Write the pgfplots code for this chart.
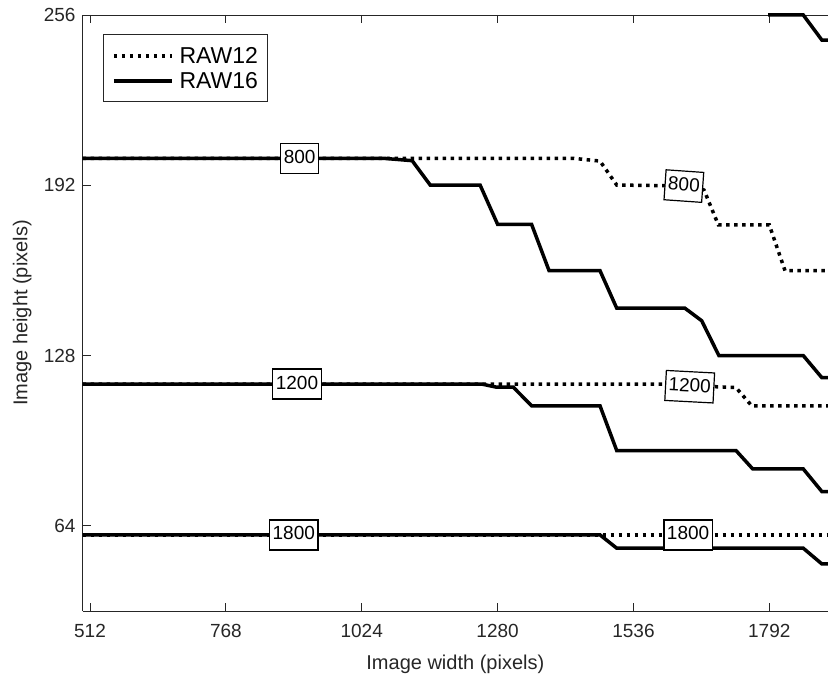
\documentclass[border=0pt]{standalone}
\usepackage{fontspec}
\setmainfont{Liberation Sans}
\usepackage{pgfplots}
\pgfplotsset{compat=1.18}
\definecolor{axgray}{HTML}{262626}

% contour lines
\pgfplotstableread{
x y
498.2 202.15
1064 202.15
1119 201.25
1153 192.1
1247 192.1
1280 177.35
1344 177.35
1377 159.9
1473 159.9
1504.5 145.8
1633 145.8
1664.6 141.1
1697 128.0
1856 128.0
1891 119.7
1903 119.7
}\rawsixteenA
\pgfplotstableread{
x y
498.2 202.15
1422 202.15
1473 201.1
1504.5 192.1
1642.6 191.7
1669 190.2
1696 177.1
1792 177.1
1821.6 159.9
1903 159.9
}\rawtwelveA
\pgfplotstableread{
x y
498.2 117.3
1250 117.3
1278.4 116.1
1309.6 116.1
1344.3 109.1
1473 109.1
1504.5 92.3
1729.3 92.3
1760.7 85.4
1856 85.4
1891 76.9
1903 76.9
}\rawsixteenB
\pgfplotstableread{
x y
498.2 117.3
1600 117.3
1690 116.3
1729 116.0
1759 109.1
1903 109.1
}\rawtwelveB
\pgfplotstableread{
x y
498.2 60.6
1473 60.6
1504.5 55.6
1856 55.6
1891 49.7
1903 49.7
}\rawsixteenC
\pgfplotstableread{
x y
498.2 60.6
1903 60.6
}\rawtwelveC
\pgfplotstableread{
x y
1790 256
1856 256
1891 246.6
1903 246.6
}\rawsixteenTop

\begin{document}
\begin{tikzpicture}[
  lbl/.style={draw=black, line width=1.2pt, fill=white,
    font=\fontsize{19}{22}\selectfont, inner xsep=3pt, inner ysep=6pt,
    text height=14pt, text depth=4pt}]
\begin{axis}[
  at={(0pt,0pt)}, anchor=south west,
  scale only axis, width=745.3pt, height=596pt,
  xmin=498.2, xmax=1902.6, ymin=32, ymax=256,
  axis x line=box, axis y line=left,
  every non boxed y axis/.style={},
  y axis line style={-},
  axis line style={axgray, line width=0.8pt},
  tick align=inside, major tick length=8pt,
  tick style={axgray, line width=0.8pt},
  xtick={512,768,1024,1280,1536,1792},
  ytick={64,128,192,256},
  /pgf/number format/assume math mode=true,
  /pgf/number format/1000 sep={},
  ticklabel style={font=\fontsize{19}{22}\selectfont, text=axgray},
  xticklabel style={yshift=-10pt},
  yticklabel style={xshift=-3.7pt},
  xlabel={Image width (pixels)}, ylabel={Image height (pixels)},
  label style={font=\fontsize{20}{24}\selectfont, text=axgray},
  xlabel style={at={(axis description cs:0.5,-0.0978)}, anchor=base},
  ylabel style={at={(axis description cs:-0.0743,0.5)}, anchor=base},
  clip=false,
  legend style={at={(axis description cs:0,1)}, anchor=north west,
    xshift=20pt, yshift=-19pt, draw=axgray, line width=0.8pt,
    font=\fontsize{23}{26}\selectfont, text=black,
    cells={anchor=west},
    nodes={inner sep=0pt, text height=16.5pt, text depth=0pt},
    column sep=6pt, row sep=8.5pt, inner xsep=9pt, inner ysep=13pt},
  legend image code/.code={\draw[#1] (0pt,-0.5pt) -- (58pt,-0.5pt);},
  raw12/.style={black, line width=3.5pt, dash pattern=on 3.5pt off 4.5pt},
  raw16/.style={black, line width=3.5pt},
]
\addplot[raw12] table {\rawtwelveA};
\addlegendentry{RAW12}
\addplot[raw16] table {\rawsixteenA};
\addlegendentry{RAW16}
\addplot[raw16, forget plot] table {\rawsixteenB};
\addplot[raw16, forget plot] table {\rawsixteenC};
\addplot[raw16, forget plot] table {\rawsixteenTop};
\addplot[raw12, forget plot] table {\rawtwelveB};
\addplot[raw12, forget plot] table {\rawtwelveC};

\node[lbl] at (axis cs:907,202.15) {800};
\node[lbl] at (axis cs:902,117.3) {1200};
\node[lbl] at (axis cs:896,60.6) {1800};
\node[lbl, rotate=-4] at (axis cs:1631,191.7) {800};
\node[lbl, rotate=-3] at (axis cs:1642,116.3) {1200};
\node[lbl] at (axis cs:1639,60.6) {1800};
\end{axis}
\pgfresetboundingbox
\useasboundingbox (-82.7pt,-64pt) rectangle (745.3pt,611pt);
\end{tikzpicture}
\end{document}
